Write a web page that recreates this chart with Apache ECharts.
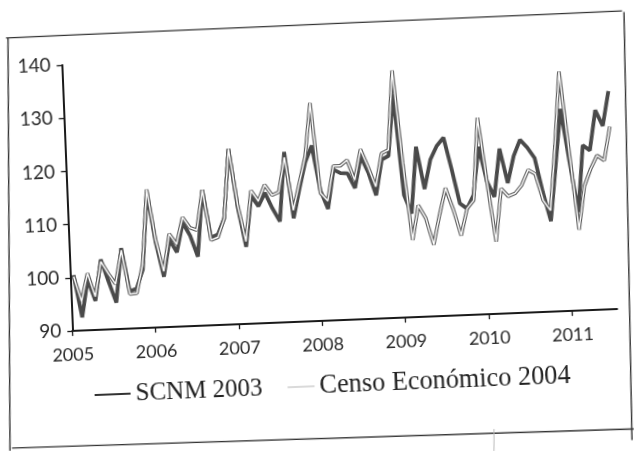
<!DOCTYPE html>
<html>
<head>
<meta charset="utf-8">
<script src="https://cdn.jsdelivr.net/npm/echarts@6/dist/echarts.min.js"></script>
<style>
  html, body { margin: 0; padding: 0; background: #fff; overflow: hidden; width: 634px; height: 451px; position: relative; }
  #chart { position: absolute; left: -100px; top: -100px; width: 834px; height: 651px;
           transform: rotate(-2.3deg); transform-origin: 50% 50%; }
</style>
</head>
<body>
<div id="chart"></div>
<script>
// Tick labels (years)
var tickYears = [2005, 2006, 2007, 2008, 2009, 2010, 2011];
var startYear = 2005;

// Monthly values, Jan 2005 - Jul 2011
var scnm2003 = [
  100.5, 92.5, 99.5, 95.5, 103.2, 99, 95, 105.2, 97, 97.5, 101, 115.5,
  106, 99.5, 106.4, 104, 109.5, 107, 103, 115.5, 106.5, 107, 110, 123,
  112, 104.5, 114, 112, 114.5, 111.5, 109, 122, 109.5, 115, 120, 123,
  114.5, 111, 118.3, 117.6, 117.5, 114.7, 120.6, 117.5, 113.2, 119.8, 120.5, 132,
  113, 109.5, 122, 114, 119.5, 122, 123.5, 117.5, 111, 110, 112.5, 121.5,
  115, 112, 121, 114.5, 119.5, 122.5, 121, 119, 112.5, 107, 117.5, 128,
  118, 108.5, 121, 120, 127.5, 124.5, 131
];
var censo2004 = [
  100.2, 95.5, 100.7, 96.3, 102.8, 100.5, 98.5, 104.8, 96.5, 96.6, 102, 116,
  106.5, 100.5, 107.5, 105.5, 110.5, 108.5, 108, 115.5, 106, 106.5, 110, 123,
  112.5, 105.5, 115, 113, 116, 114, 114.5, 121, 111, 116, 121, 131,
  114, 112.5, 119, 119, 120, 116.2, 121.9, 118.5, 114.8, 121, 121.6, 136.5,
  119, 104.5, 111, 108.5, 103.5, 109, 114, 110, 105, 110, 111.5, 127,
  115, 103.6, 113.5, 112, 112.5, 114, 116.8, 116, 111, 109, 121, 135,
  120, 105.2, 113.3, 116.5, 119, 118, 124.3
];
var seriesNames = ['SCNM 2003', 'Censo Económico 2004'];

// mid-month positions on a decimal-year axis
function toPairs(arr) {
  return arr.map(function (v, i) { return [startYear + (i + 0.5) / 12, v]; });
}
var xMax = startYear + (scnm2003.length - 0.5) / 12;

// the chart canvas is enlarged by OFF on every side and rotated like the scanned page
var OFF = 100, W = 634 + 2 * OFF, H = 451 + 2 * OFF;
var ANG = 2.3 * Math.PI / 180, CX = 317, CY = 225.5;
function loc(sx, sy) {
  var dx = sx - CX, dy = sy - CY;
  return [OFF + CX + Math.cos(ANG) * dx - Math.sin(ANG) * dy,
          OFF + CY + Math.sin(ANG) * dx + Math.cos(ANG) * dy];
}
function frameLine(a, b, color, w) {
  var p = loc(a[0], a[1]), q = loc(b[0], b[1]);
  return { type: 'line', silent: true, z: 100,
    shape: { x1: p[0], y1: p[1], x2: q[0], y2: q[1] },
    style: { stroke: color || '#333', lineWidth: w || 1.4 } };
}

var chart = echarts.init(document.getElementById('chart'), null, { renderer: 'canvas' });
var tickColor = '#1a1a1a';
chart.setOption({
  animation: false,
  backgroundColor: '#ffffff',
  grid: { left: OFF + 68.3, top: OFF + 54.9, right: W - (OFF + 613.5), bottom: H - (OFF + 321.1), containLabel: false },
  xAxis: {
    type: 'value', min: startYear, max: xMax, interval: 1,
    axisLine: { show: true, onZero: false, lineStyle: { color: tickColor, width: 2 } },
    axisTick: { show: true, length: 5, customValues: tickYears, lineStyle: { color: tickColor, width: 1.3 } },
    axisLabel: { margin: 15, customValues: tickYears, fontFamily: 'Lato', fontSize: 18, color: '#2a2a2a',
      formatter: function (v) { return String(Math.round(v)); } },
    splitLine: { show: false }
  },
  yAxis: {
    type: 'value', min: 90, max: 140, interval: 10,
    axisLine: { show: true, onZero: false, lineStyle: { color: tickColor, width: 2 } },
    axisTick: { show: true, length: 5, lineStyle: { color: tickColor, width: 1.3 } },
    axisLabel: { margin: 11, fontFamily: 'Lato', fontSize: 19, color: '#2a2a2a' },
    splitLine: { show: false }
  },
  legend: {
    left: OFF + 83, top: OFF + 368, itemWidth: 36, itemHeight: 14, itemGap: 16,
    textStyle: { fontFamily: 'Liberation Serif', fontSize: 25, color: '#222' },
    data: [
      { name: seriesNames[0], icon: 'path://M0,6L40,6L40,8L0,8Z', itemStyle: { color: '#333' } },
      { name: seriesNames[1],
        icon: 'path://M0,7L0.2,7L0.2,7.05L0,7.05Z M10,6.5L40,6.5L40,7.5L10,7.5Z',
        itemStyle: { color: '#b5b5b5' },
        textStyle: { fontFamily: 'Liberation Serif', fontSize: 26.3, color: '#222' } }
    ]
  },
  graphic: [
    frameLine([6, 38], [622, 11]),
    frameLine([8, 38], [10, 451]),
    frameLine([624, 12], [632, 440]),
    frameLine([12, 448], [634, 429]),
    frameLine([494, 429], [494, 451], '#bbb', 1)
  ],
  series: [
    { name: seriesNames[0], type: 'line', data: toPairs(scnm2003), symbol: 'none',
      lineStyle: { color: '#4a4a4a', width: 3.8 }, itemStyle: { color: '#333' }, z: 2 },
    { name: '_censoEdge', type: 'line', data: toPairs(censo2004), symbol: 'none',
      lineStyle: { color: '#5a5a5a', width: 3.6 }, z: 3 },
    { name: seriesNames[1], type: 'line', data: toPairs(censo2004), symbol: 'none',
      lineStyle: { color: '#ffffff', width: 1.4 }, itemStyle: { color: '#b5b5b5' }, z: 4 }
  ]
});
</script>
</body>
</html>
